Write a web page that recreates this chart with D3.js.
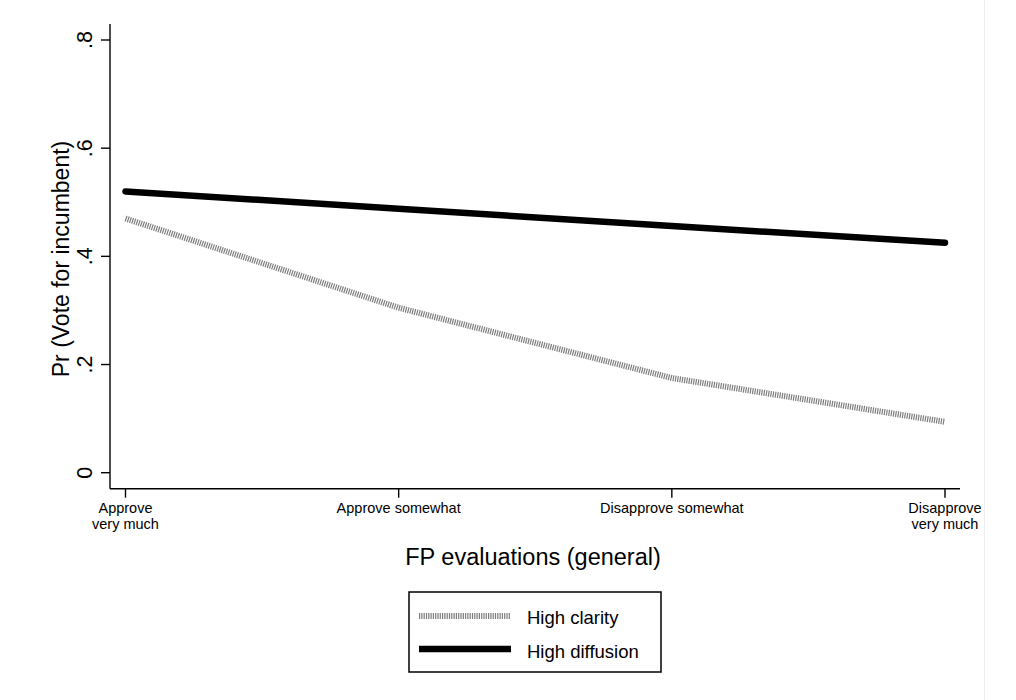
<!DOCTYPE html>
<html>
<head>
<meta charset="utf-8">
<script src="https://cdn.jsdelivr.net/npm/d3@7"></script>
<style>
  html, body { margin: 0; padding: 0; background: #fff; }
  svg { display: block; font-family: "Liberation Sans", Arial, Helvetica, sans-serif; }
</style>
</head>
<body>
<svg id="chart" width="1016" height="700"></svg>
<script>
// ---- data ----
const categories = ["Approve very much", "Approve somewhat", "Disapprove somewhat", "Disapprove very much"];
const categoryLabels = [["Approve", "very much"], ["Approve somewhat"], ["Disapprove somewhat"], ["Disapprove", "very much"]];
const highClarity = [0.470, 0.305, 0.175, 0.094];
const highDiffusion = [0.520, 0.488, 0.456, 0.425];
const yTicks = [0, 0.2, 0.4, 0.6, 0.8];
const yTickLabels = ["0", ".2", ".4", ".6", ".8"];
const seriesNames = ["High clarity", "High diffusion"];

// ---- layout ----
const svg = d3.select("#chart");
const axisX = 110, axisY = 488.7, axisRight = 960, axisTop = 24;

const x = d3.scalePoint().domain(categories).range([125.5, 945]);
const y = d3.scaleLinear().domain([0, 0.8]).range([472.7, 40]);

// faint image edge on the right
svg.append("line").attr("x1", 984.5).attr("x2", 984.5).attr("y1", 0).attr("y2", 700)
  .attr("stroke", "#eeeeee").attr("stroke-width", 1);

// y axis
svg.append("line").attr("x1", axisX).attr("x2", axisX).attr("y1", axisTop).attr("y2", axisY)
  .attr("stroke", "#000").attr("stroke-width", 1.4);
const yt = svg.append("g");
yTicks.forEach((t, i) => {
  const py = y(t);
  yt.append("line").attr("x1", axisX - 9).attr("x2", axisX).attr("y1", py).attr("y2", py)
    .attr("stroke", "#000").attr("stroke-width", 1.4);
  yt.append("text")
    .attr("transform", `translate(92,${py}) rotate(-90)`)
    .attr("text-anchor", "middle")
    .attr("font-size", 21.5)
    .attr("fill", "#000")
    .text(yTickLabels[i]);
});

// x axis
svg.append("line").attr("x1", axisX).attr("x2", axisRight).attr("y1", axisY).attr("y2", axisY)
  .attr("stroke", "#000").attr("stroke-width", 1.4);
categories.forEach((c, i) => {
  const px = x(c);
  svg.append("line").attr("x1", px).attr("x2", px).attr("y1", axisY).attr("y2", axisY + 9)
    .attr("stroke", "#000").attr("stroke-width", 1.4);
  const t = svg.append("text").attr("text-anchor", "middle").attr("font-size", 14.5).attr("fill", "#000");
  categoryLabels[i].forEach((ln, j) => {
    t.append("tspan").attr("x", px).attr("y", 513 + j * 15.5).text(ln);
  });
});

// axis titles
svg.append("text")
  .attr("transform", "translate(69,259) rotate(-90)")
  .attr("text-anchor", "middle").attr("font-size", 23).attr("fill", "#000")
  .text("Pr (Vote for incumbent)");
svg.append("text")
  .attr("x", 533).attr("y", 565)
  .attr("text-anchor", "middle").attr("font-size", 23.5).attr("fill", "#000")
  .text("FP evaluations (general)");

// lines
const line = d3.line().x((d, i) => x(categories[i])).y(d => y(d));
svg.append("path").datum(highClarity).attr("d", line)
  .attr("fill", "none").attr("stroke", "#7c7c7c").attr("stroke-width", 6)
  .attr("stroke-dasharray", "1.2 1.1");
svg.append("path").datum(highDiffusion).attr("d", line)
  .attr("fill", "none").attr("stroke", "#000").attr("stroke-width", 6.5)
  .attr("stroke-linecap", "round").attr("stroke-linejoin", "round");

// legend
const lg = svg.append("g");
lg.append("rect").attr("x", 409).attr("y", 592).attr("width", 252).attr("height", 80)
  .attr("fill", "#fff").attr("stroke", "#000").attr("stroke-width", 1.5);
lg.append("line").attr("x1", 419).attr("x2", 511).attr("y1", 616).attr("y2", 616)
  .attr("stroke", "#7c7c7c").attr("stroke-width", 6).attr("stroke-dasharray", "1.2 1.1");
lg.append("line").attr("x1", 419).attr("x2", 511).attr("y1", 649).attr("y2", 649)
  .attr("stroke", "#000").attr("stroke-width", 6.5);
lg.append("text").attr("x", 527).attr("y", 623.5).attr("font-size", 18.5).attr("fill", "#000").text(seriesNames[0]);
lg.append("text").attr("x", 527).attr("y", 657.5).attr("font-size", 18.5).attr("fill", "#000").text(seriesNames[1]);
</script>
</body>
</html>
